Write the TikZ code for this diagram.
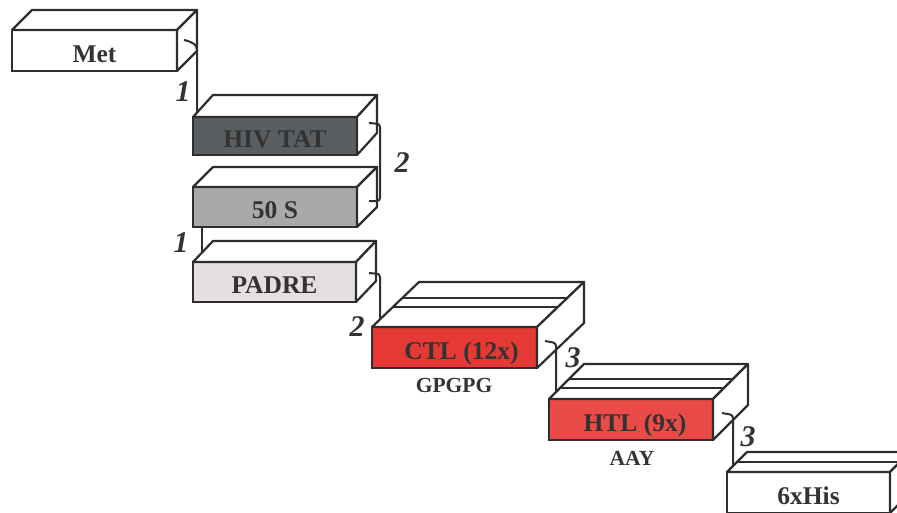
\documentclass[tikz,border=0pt]{standalone}
\usepackage{fontspec}
\setmainfont{Liberation Serif}
\usetikzlibrary{calc}
\definecolor{ink}{HTML}{2E2E2E}
\definecolor{txt}{HTML}{333333}
\definecolor{hivfill}{HTML}{5B5E60}
\definecolor{sfill}{HTML}{A9A9A9}
\definecolor{padrefill}{HTML}{E6DFE2}
\definecolor{ctlfill}{HTML}{E53935}
\definecolor{htlfill}{HTML}{EA4A48}
\newcommand\cubeparts[3]{%
  \draw[edge,fill=white] (#1.north west) -- ++(#2,-#3) -- ($(#1.north east)+(#2,-#3)$) -- (#1.north east) -- cycle;
  \draw[edge,fill=white] (#1.north east) -- ++(#2,-#3) -- ($(#1.south east)+(#2,-#3)$) -- (#1.south east) -- cycle;}
\begin{document}
\begin{tikzpicture}[x=1pt,y=-1pt,
  edge/.style={draw=ink,line width=2.2pt,line join=round},
  face/.style={draw=ink,line width=2.2pt,inner sep=0pt,outer sep=0pt,
    minimum width=165pt,minimum height=41pt,text height=23pt,text depth=0pt,
    font=\fontsize{25.5}{25.5}\selectfont\bfseries,text=txt},
  conn/.style={draw=ink,line width=2pt,rounded corners=3pt},
  num/.style={font=\fontsize{30}{30}\selectfont\bfseries\itshape,text=txt,inner sep=0pt},
  sub/.style={font=\fontsize{21.5}{21.5}\selectfont\bfseries,text=txt,inner sep=0pt}]
\clip (0,0) rectangle (897,512);
\useasboundingbox (0,0) rectangle (897,512);
\fill[white] (0,0) rectangle (897,512);

% boxes
\node[face,fill=white] (met) at (94.5,50.5) {Met};
\cubeparts{met}{20}{20}
\node[face,fill=hivfill,minimum width=164pt,minimum height=38pt] (hiv) at (275,136) {HIV TAT};
\cubeparts{hiv}{20}{22}
\node[face,fill=sfill,minimum width=164pt,minimum height=40pt] (s50) at (275,207) {50 S};
\cubeparts{s50}{20}{20}
\node[face,fill=padrefill,minimum width=163pt,minimum height=40pt] (padre) at (274.5,282) {PADRE};
\cubeparts{padre}{20}{21}
\node[face,fill=ctlfill] (ctl) at (454.5,347.5) {\hspace*{14pt}CTL (12x)};
\cubeparts{ctl}{47}{45}
\draw[edge] ($(ctl.north west)+(20.7,-19.8)$) -- ($(ctl.north east)+(20.7,-19.8)$);
\draw[edge] ($(ctl.north west)+(30.1,-28.8)$) -- ($(ctl.north east)+(30.1,-28.8)$);
\node[face,fill=htlfill,minimum width=164pt] (htl) at (631,419.5) {\hspace*{8pt}HTL (9x)};
\cubeparts{htl}{35}{35}
\draw[edge] ($(htl.north west)+(10.9,-10.9)$) -- ($(htl.north east)+(10.9,-10.9)$);
\draw[edge] ($(htl.north west)+(20,-20)$) -- ($(htl.north east)+(20,-20)$);
\node[face,fill=white,minimum width=163pt] (his) at (808.5,492.5) {6xHis};
\cubeparts{his}{20}{20}
\draw[edge] ($(his.north west)+(10,-10)$) -- ($(his.north east)+(10,-10)$);

% sub labels
\node[sub] (gpgpg) at (454,385) {GPGPG};
\node[sub] (aay) at (632,458) {AAY};

% connector end points
\coordinate (c1a) at ($(met.east)+(7,-10.5)$);
\coordinate (c1b) at ($(hiv.north west)+(4,-4.4)$);
\coordinate (c2a) at ($(hiv.east)+(12,-13)$);
\coordinate (c2b) at ($(s50.east)+(12,-6)$);
\coordinate (c3a) at ($(s50.south west)+(9,0)$);
\coordinate (c3b) at ($(padre.north west)+(9,-9.5)$);
\coordinate (c4a) at ($(padre.east)+(13,-9)$);
\coordinate (c4b) at ($(ctl.north west)+(8,-7.7)$);
\coordinate (c5a) at ($(ctl.east)+(8,-6.5)$);
\coordinate (c5b) at ($(htl.north west)+(7,-6.4)$);
\coordinate (c6a) at ($(htl.east)+(9,-6.5)$);
\coordinate (c6b) at ($(his.north west)+(6,-6)$);

% connectors
\draw[conn] (c1a) .. controls ++(8,2) and ($(c1b|-c1a)+(0,4)$) .. ($(c1b|-c1a)+(0,13)$) -- (c1b);
\draw[conn] (c2a) -- ($(c2a)+(11,1)$) -- ($(c2a)+(11,78)$) -- (c2b);
\draw[conn] (c3a) -- (c3b);
\draw[conn] (c4a) -- ($(c4a)+(11,1)$) -- (c4b);
\draw[conn] (c5a) -- ($(c5a)+(11,2)$) -- (c5b);
\draw[conn] (c6a) -- ($(c6a)+(11,2)$) -- (c6b);

% numbers
\node[num] (n1) at (183,92) {1};
\node[num] (n2) at (402,163) {2};
\node[num] (n3) at (181,243) {1};
\node[num] (n4) at (357,327) {2};
\node[num] (n5) at (573,358) {3};
\node[num] (n6) at (748,437) {3};
\end{tikzpicture}
\end{document}
